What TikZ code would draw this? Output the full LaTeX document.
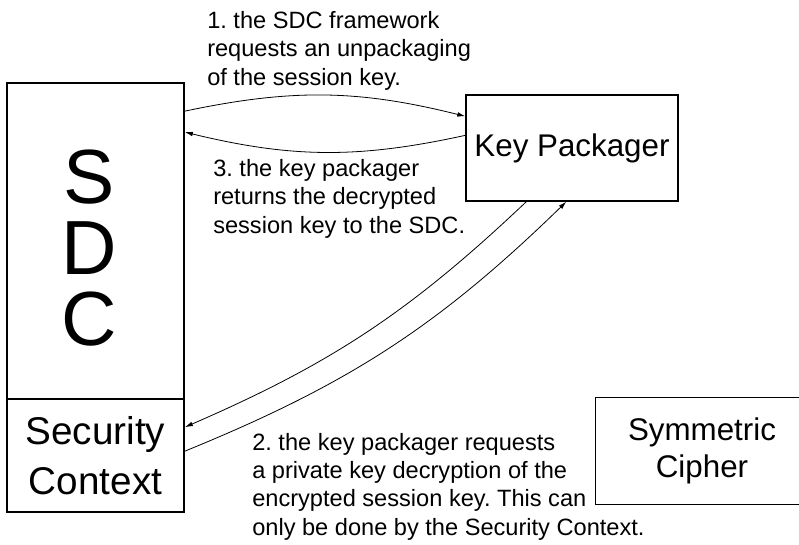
\documentclass[tikz,border=0pt]{standalone}
\usepackage{fontspec}
\setmainfont{Liberation Sans}
\usetikzlibrary{arrows.meta,calc}
\frenchspacing

\tikzset{
	box/.style={draw, line width=1pt, inner sep=0pt},
	bigtext/.style={font=\fontsize{23.5}{27.75}\selectfont, align=center},
	note/.style={font=\fontsize{17.7}{21.25}\selectfont, align=left, inner sep=0pt, anchor=base west},
	msg/.style={-{Latex[length=6pt,width=3.5pt]}, line width=0.6pt}
}

\begin{document}
\begin{tikzpicture}[x=0.75pt, y=-0.75pt]
	\useasboundingbox (0,0) rectangle (799,544);
	% the boxes
	\node[box, line width=1.3pt, minimum width=132.75pt, minimum height=237pt] (sdc) at (95.5,241) {};
	\node[font=\fontsize{57.6}{53}\selectfont, align=center] (sdclabel) at (89,248) {S\\D\\C};
	\node[box, line width=1.3pt, minimum width=132.75pt, minimum height=84.75pt, font=\fontsize{29}{37.5}\selectfont, align=center] (ctx) at (95.5,455.5) {Security\\Context};
	\node[box, bigtext, minimum width=159pt, minimum height=79.5pt] (kp) at (572,148) {Key Packager};
	\node[bigtext, inner sep=0pt, minimum width=159pt, minimum height=79.5pt] (cipher) at (702,451) {Symmetric\\Cipher};
	% cut off at the right edge
	\draw[line width=1pt] ($(cipher.north east)+(20,0)$) -- (cipher.north west) -- (cipher.south west) -- ($(cipher.south east)+(20,0)$);
	% the messages
	\draw[msg] ($(sdc.north east)+(0,29)$) to[bend left=13] ($(kp.north west)+(0,22)$);
	\draw[msg] ($(kp.north west)+(0,41)$) to[bend left=13] ($(sdc.north east)+(0,50)$);
	\draw[msg] ($(kp.south west)+(61,0)$) to[bend left=10] ($(ctx.north east)+(0,29)$);
	\draw[msg] ($(ctx.north east)+(0,53)$) to[bend right=11] ($(kp.south west)+(101,0)$);
	% the texts (base = last line)
	\node[note] (step1) at (207,85) {1. the SDC framework\\requests an unpackaging\\of the session key.};
	\node[note] (step3) at (213,233.3) {3. the key packager\\returns the decrypted\\session key to the SDC.};
	\node[note] (step2) at (252,535) {2. the key packager requests\\a private key decryption of the\\encrypted session key. This can\\only be done by the Security Context.};
\end{tikzpicture}
\end{document}
